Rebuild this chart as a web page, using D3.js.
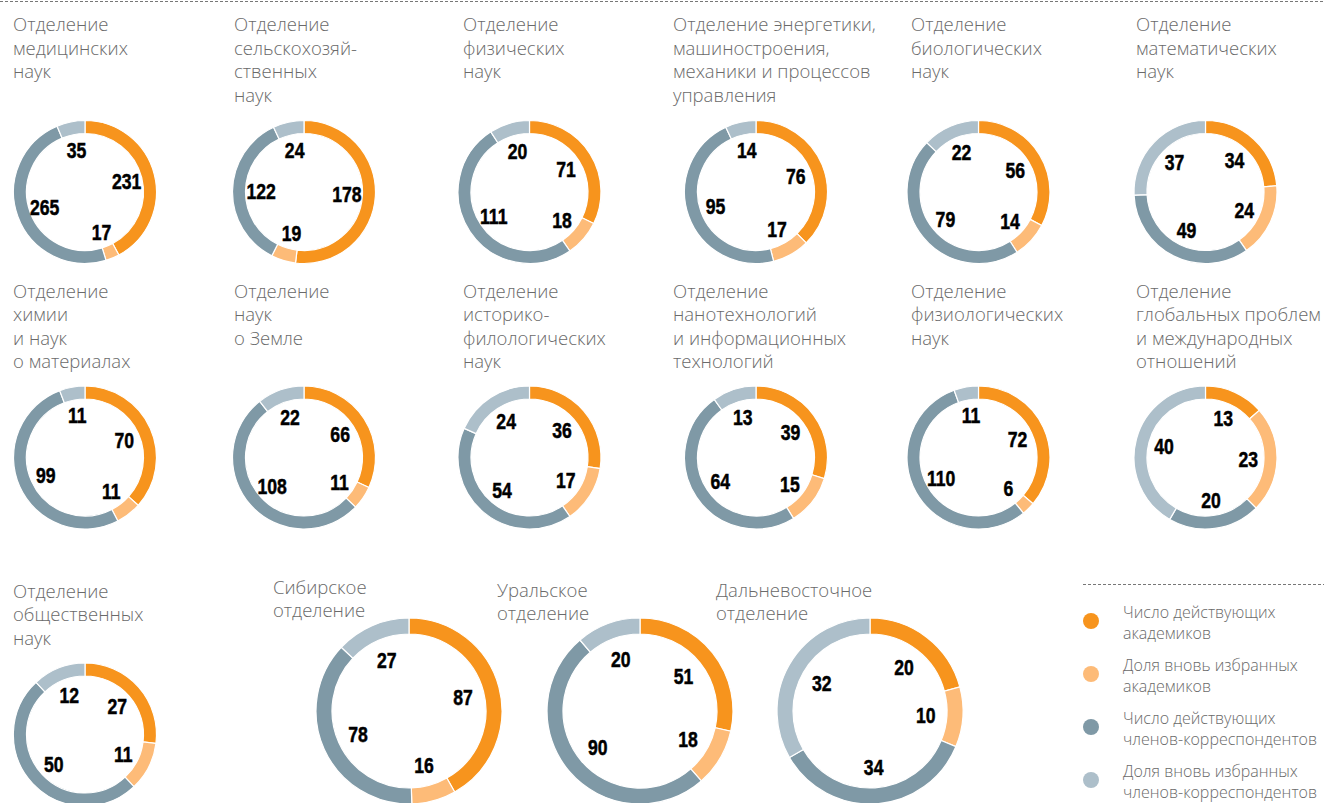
<!DOCTYPE html>
<html>
<head>
<meta charset="utf-8">
<script src="https://cdn.jsdelivr.net/npm/d3@7"></script>
<style>
  body { margin: 0; background: #fff; }
  .title { font-family: "Open Sans", Roboto, sans-serif; font-weight: 300; font-size: 18.5px; fill: #6a6a6a; }
  .legend-text { font-family: "Open Sans", Roboto, sans-serif; font-weight: 300; font-size: 16px; fill: #6a6a6a; }
  .num { font-family: "Liberation Sans", Arial, sans-serif; font-weight: bold; font-size: 22px; fill: #000; stroke: #000; stroke-width: 0.5px; }
</style>
</head>
<body>
<svg id="chart" width="1324" height="803"></svg>
<script>
// Division titles (line breaks as in the original)
const titles = [
    ["Отделение", "медицинских", "наук"],
    ["Отделение", "сельскохозяй-", "ственных", "наук"],
    ["Отделение", "физических", "наук"],
    ["Отделение энергетики,", "машиностроения,", "механики и процессов", "управления"],
    ["Отделение", "биологических", "наук"],
    ["Отделение", "математических", "наук"],
    ["Отделение", "химии", "и наук", "о материалах"],
    ["Отделение", "наук", "о Земле"],
    ["Отделение", "историко-", "филологических", "наук"],
    ["Отделение", "нанотехнологий", "и информационных", "технологий"],
    ["Отделение", "физиологических", "наук"],
    ["Отделение", "глобальных проблем", "и международных", "отношений"],
    ["Отделение", "общественных", "наук"],
    ["Сибирское", "отделение"],
    ["Уральское", "отделение"],
    ["Дальневосточное", "отделение"]
];

// Series values, one per division
const academicians    = [231, 178, 71, 76, 56, 34, 70, 66, 36, 39, 72, 13, 27, 87, 51, 20];
const newAcademicians = [17, 19, 18, 17, 14, 24, 11, 11, 17, 15, 6, 23, 11, 16, 18, 10];
const correspondents  = [265, 122, 111, 95, 79, 49, 99, 108, 54, 64, 110, 20, 50, 78, 90, 34];
const newCorrespondents = [35, 24, 20, 14, 22, 37, 11, 22, 24, 13, 11, 40, 12, 27, 20, 32];

const seriesNames = [
    ["Число действующих", "академиков"],
    ["Доля вновь избранных", "академиков"],
    ["Число действующих", "членов-корреспондентов"],
    ["Доля вновь избранных", "членов-корреспондентов"]
];
const colors = ["#f7941d", "#fdbb78", "#7f99a6", "#adbfca"];

const svg = d3.select("#chart");

// layout: ring centres and title anchors
const colX = [85, 304, 529.5, 756, 978.5, 1205.5];
const titleX = [13, 234, 463, 673, 911, 1136];
const layout = [];
for (let i = 0; i < 12; i++) {
    const row = Math.floor(i / 6), col = i % 6;
    layout.push({
        cx: colX[col], cy: row === 0 ? 192 : 457.5, r: 71.5,
        tx: titleX[col], ty: row === 0 ? 31 : 297.5
    });
}
layout.push({ cx: 85, cy: 734.5, r: 71.5, tx: 13, ty: 597.5 });
layout.push({ cx: 409, cy: 711, r: 93, tx: 273, ty: 593.5 });
layout.push({ cx: 640, cy: 711, r: 93, tx: 497, ty: 596.5 });
layout.push({ cx: 870, cy: 711, r: 93, tx: 716, ty: 596.5 });

// top dashed rule
svg.append("line")
    .attr("x1", 0).attr("x2", 1324).attr("y1", 1.5).attr("y2", 1.5)
    .attr("stroke", "#777").attr("stroke-width", 1).attr("stroke-dasharray", "3,2");

const pie = d3.pie().sort(null).value(d => d);

titles.forEach((t, i) => {
    const L = layout[i];
    const values = [academicians[i], newAcademicians[i], correspondents[i], newCorrespondents[i]];
    const thick = L.r > 80 ? 16 : 13;
    const arc = d3.arc().outerRadius(L.r).innerRadius(L.r - thick);
    const labelArc = d3.arc().outerRadius(L.r * 0.6).innerRadius(L.r * 0.6);

    const text = svg.append("text").attr("class", "title")
        .attr("x", L.tx).attr("y", L.ty);
    t.forEach((line, j) => {
        text.append("tspan").attr("x", L.tx).attr("dy", j === 0 ? 0 : 23.6).text(line);
    });

    const g = svg.append("g").attr("transform", `translate(${L.cx},${L.cy})`);
    const arcs = pie(values);
    g.selectAll("path")
        .data(arcs)
        .enter()
        .append("path")
        .attr("d", arc)
        .attr("fill", (d, k) => colors[k])
        .attr("stroke", "#fff")
        .attr("stroke-width", 1.2);

    // condensed bold numbers: squeeze a regular bold face horizontally
    g.selectAll("text")
        .data(arcs)
        .enter()
        .append("text")
        .attr("class", "num")
        .attr("text-anchor", "middle")
        .attr("dy", "0.36em")
        .attr("transform", d => `translate(${labelArc.centroid(d)}) scale(0.8,1)`)
        .text(d => d.data);
});

// legend
svg.append("line")
    .attr("x1", 1083).attr("x2", 1324).attr("y1", 584.5).attr("y2", 584.5)
    .attr("stroke", "#777").attr("stroke-width", 1).attr("stroke-dasharray", "3,2");

const legend = svg.selectAll(".legend")
    .data(seriesNames)
    .enter()
    .append("g")
    .attr("transform", (d, i) => `translate(1091,${621 + i * 53})`);

legend.append("circle").attr("r", 8).attr("fill", (d, i) => colors[i]);

legend.append("text")
    .attr("class", "legend-text")
    .attr("x", 32).attr("y", -3)
    .each(function (d) {
        d.forEach((line, j) => {
            d3.select(this).append("tspan").attr("x", 32).attr("dy", j === 0 ? 0 : 20.5).text(line);
        });
    });
</script>
</body>
</html>
